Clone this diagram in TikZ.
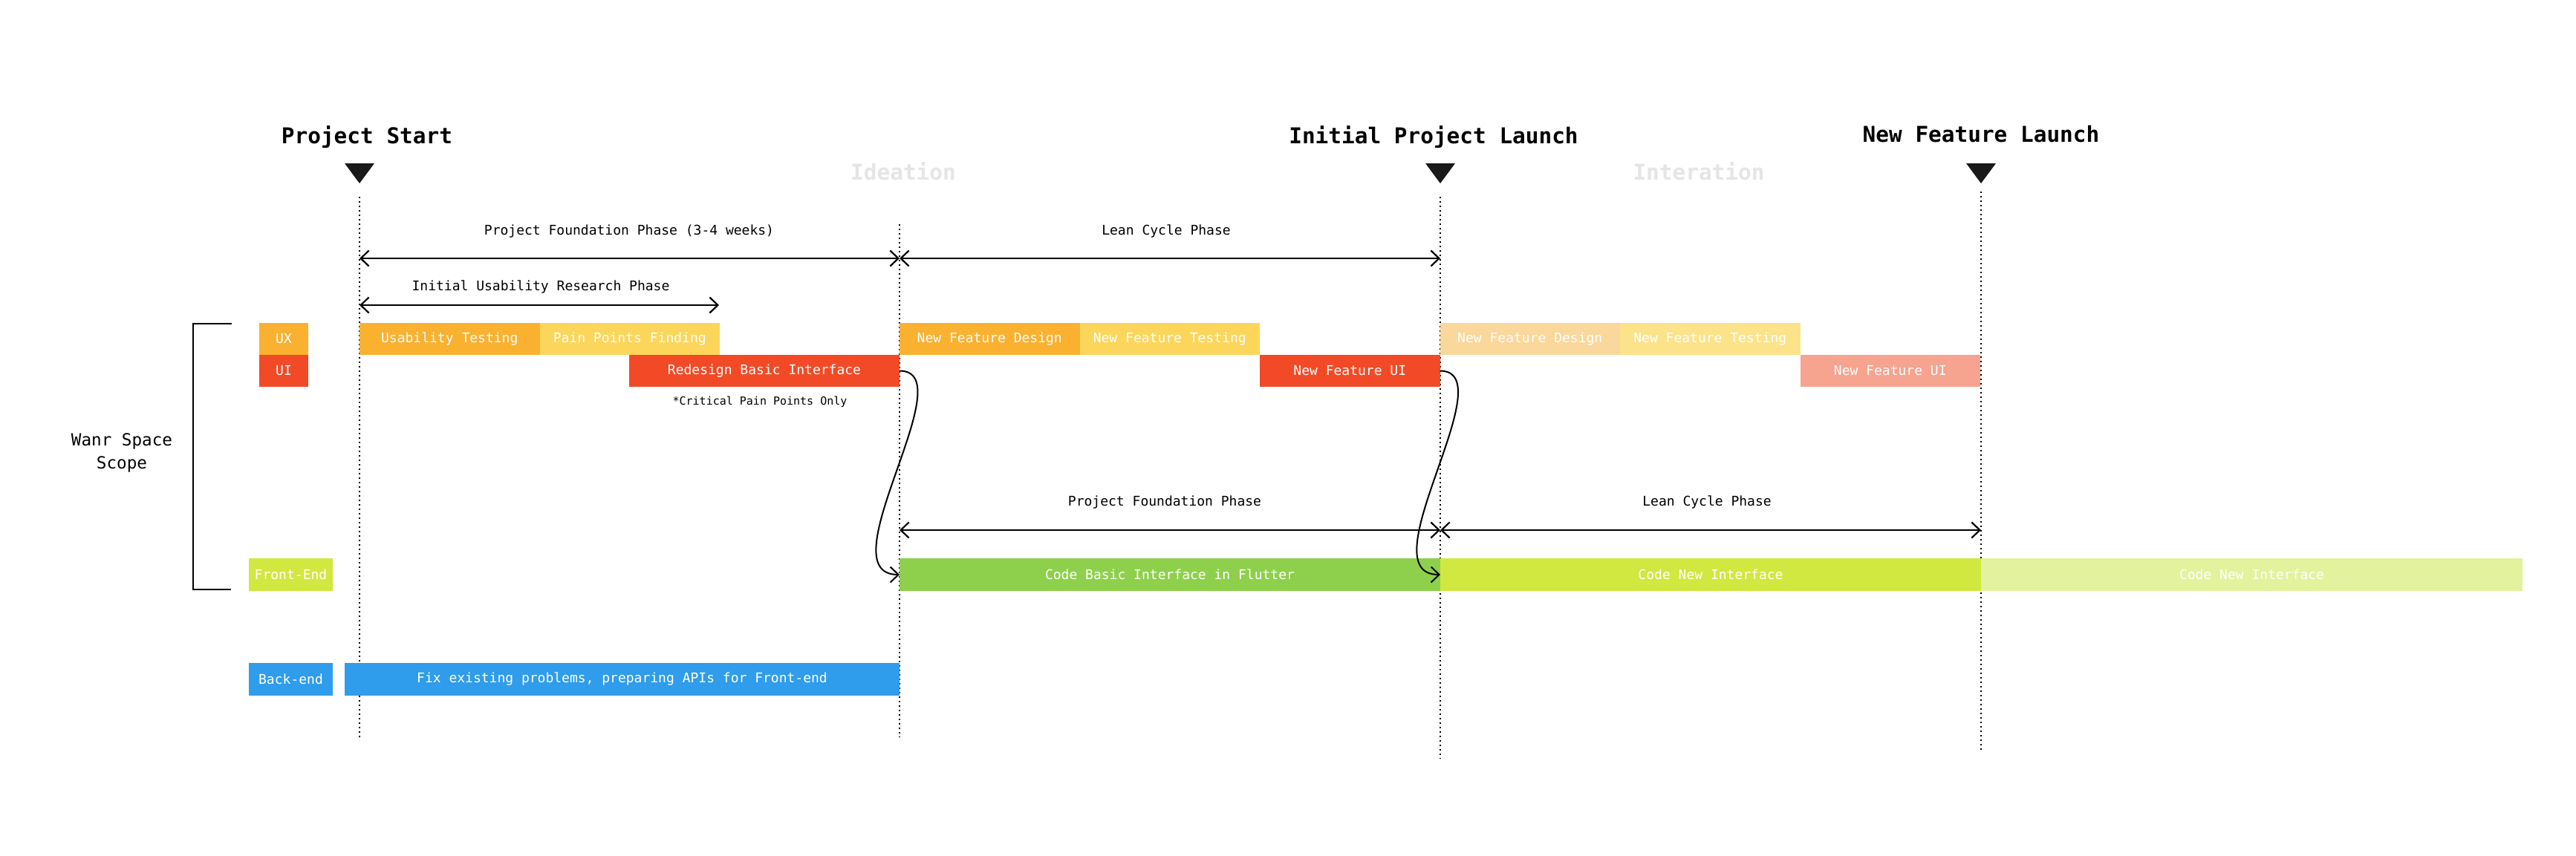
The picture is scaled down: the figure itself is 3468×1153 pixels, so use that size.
\documentclass[tikz,border=0pt]{standalone}
\usepackage{fontspec}
\setmainfont{DejaVu Sans Mono}
\usetikzlibrary{arrows.meta,positioning}

\definecolor{uxorange}{HTML}{FAB130}
\definecolor{uxyellow}{HTML}{FCD65B}
\definecolor{uired}{HTML}{F24A26}
\definecolor{fadeorange}{HTML}{FAD79B}
\definecolor{fadeyellow}{HTML}{FCE38A}
\definecolor{fadered}{HTML}{F6A390}
\definecolor{flutgreen}{HTML}{8ED04B}
\definecolor{felime}{HTML}{D0E83F}
\definecolor{fadelime}{HTML}{E3F29C}
\definecolor{beblue}{HTML}{2F9CEC}

\begin{document}
\begin{tikzpicture}[x=1pt,y=-1pt,>={Straight Barb[length=11pt,width=21pt]},node distance=0pt]
\useasboundingbox[fill=white] (0,0) rectangle (3468,1153);

\tikzset{bar/.style={minimum height=43pt,inner sep=0pt,outer sep=0pt,text=white,font=\fontsize{18}{18}\selectfont,anchor=west}}
\tikzset{task/.style={bar,minimum width=242.5pt}}
\tikzset{milestone/.style={font=\fontsize{29.4}{30}\selectfont\bfseries,anchor=base}}
\tikzset{phase/.style={font=\fontsize{18}{18}\selectfont,anchor=base}}
\tikzset{timeline/.style={dash pattern=on 2pt off 4pt,line width=2pt}}
\tikzset{span/.style={<->,line width=2.2pt}}

% time lines
\foreach \n/\x/\top/\bot in {t1/484/265/997, t2/1211/302/993, t3/1939/265/1022, t4/2667/258/1011}{
  \coordinate (\n top) at (\x,\top);
  \coordinate (\n bot) at (\x,\bot);
  \draw[timeline] (\n top) -- (\n bot);
}
\foreach \x in {484,1939,2667}
  \fill[black!90] (\x-20,220) -- (\x+20,220) -- (\x,247) -- cycle;

\node[milestone]             (start)      at (494,193)  {Project Start};
\node[milestone]             (launch)     at (1930,193) {Initial Project Launch};
\node[milestone]             (newlaunch)  at (2667,191) {New Feature Launch};
\node[milestone,text=gray!20] (ideation)   at (1216,242) {Ideation};
\node[milestone,text=gray!20] (interation) at (2287,242) {Interation};

% phases
\coordinate (a1) at (484,348);
\coordinate (a2) at (1211,348);
\coordinate (a3) at (1939,348);
\coordinate (b1) at (484,411);
\coordinate (b2) at (968,411);
\coordinate (c1) at (1211,714);
\coordinate (c2) at (1939,714);
\coordinate (c3) at (2667,714);
\draw[span] (a1) -- (a2);
\draw[span] (a2) -- (a3);
\draw[span] (b1) -- (b2);
\draw[span] (c1) -- (c2);
\draw[span] (c2) -- (c3);
\node[phase] (found)    at (847,316)  {Project Foundation Phase (3-4 weeks)};
\node[phase] (lean)     at (1570,316) {Lean Cycle Phase};
\node[phase] (research) at (728,391)  {Initial Usability Research Phase};
\node[phase] (found2)   at (1568,681) {Project Foundation Phase};
\node[phase] (lean2)    at (2298,681) {Lean Cycle Phase};

% scope
\draw[line width=2pt] (312,436) -- (260,436) -- (260,794) -- (311,794);
\node[align=center,font=\fontsize{22.6}{31}\selectfont] (scope) at (164,610) {Wanr Space\\Scope};

% UX / UI
\node[bar,fill=uxorange,minimum width=66pt] (ux) at (349,456.5) {UX};
\node[bar,fill=uired,minimum width=66pt]    (ui) at (349,499.5) {UI};
\node[task,fill=uxorange]                   (usability)  at (484,456.5) {Usability Testing};
\node[task,fill=uxyellow,right=of usability] (painpoints) {Pain Points Finding};
\node[task,fill=uxorange]                   (design1)    at (1211,456.5) {New Feature Design};
\node[task,fill=uxyellow,right=of design1]  (testing1)   {New Feature Testing};
\node[bar,fill=uired,minimum width=364pt,anchor=north east] (redesign) at (design1.south west) {Redesign Basic Interface};
\node[task,fill=uired,anchor=north west]    (featui1)    at (testing1.south east) {New Feature UI};
\node[task,fill=fadeorange,anchor=south west] (design2)  at (featui1.north east) {New Feature Design};
\node[task,fill=fadeyellow,right=of design2] (testing2)  {New Feature Testing};
\node[task,fill=fadered,anchor=north west]  (featui2)    at (testing2.south east) {New Feature UI};
\node[font=\fontsize{15}{15}\selectfont,anchor=base] (note) at (1023,545) {*Critical Pain Points Only};

% front / back
\node[bar,fill=felime,minimum width=113pt,minimum height=44pt] (fe) at (335,774) {Front-End};
\node[bar,fill=beblue,minimum width=113pt,minimum height=44pt] (be) at (335,915) {Back-end};
\node[bar,fill=flutgreen,minimum width=728pt,minimum height=44pt] (codebasic) at (1211,774) {Code Basic Interface in Flutter};
\node[bar,fill=felime,minimum width=728pt,minimum height=44pt,right=of codebasic] (codenew1) {Code New Interface};
\node[bar,fill=fadelime,minimum width=729pt,minimum height=44pt,right=of codenew1] (codenew2) {Code New Interface};
\node[bar,fill=beblue,minimum width=747pt,minimum height=44pt] (fix) at (464,915) {Fix existing problems, preparing APIs for Front-end};

% hand over
\draw[->,line width=2pt] (redesign.east) .. controls +(89,0) and +(-101,0) .. (codebasic.west);
\draw[->,line width=2pt] (featui1.east) .. controls +(89,0) and +(-101,0) .. (codenew1.west);
\end{tikzpicture}
\end{document}
